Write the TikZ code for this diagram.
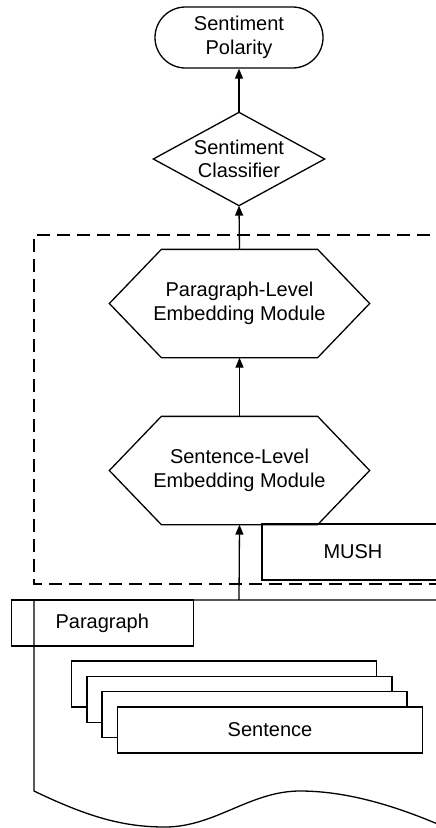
\documentclass[tikz,border=0pt]{standalone}
\usepackage{fontspec}
\setmainfont{Liberation Sans}
\usetikzlibrary{shapes.misc,arrows.meta}
\begin{document}
\begin{tikzpicture}[x=1pt,y=-1pt,
  line width=1.3pt,
  every node/.style={font=\fontsize{20}{23.5}\selectfont, align=center, inner sep=0pt},
  frame/.style 2 args={minimum width=#1pt, minimum height=#2pt},
  flow/.style={-{Triangle[length=10pt,width=8pt]}},
  group/.style={dash pattern=on 13pt off 7pt},
  card/.style={draw, fill=white, frame={305}{46}},
  terminal/.style={draw, rounded rectangle, frame={168}{61}}
]
\useasboundingbox (0,0) rectangle (436,828);
\clip (0,0) rectangle (436,828);

% output terminal
\node[terminal] (pol) at (239,37.5) {Sentiment\\Polarity};

% classifier (diamond drawn through the node anchors)
\node[frame={170}{92}] (cls) at (239,159) {Sentiment\\Classifier};
\draw (cls.north) -- (cls.east) -- (cls.south) -- (cls.west) -- cycle;

% dashed model boundary
\draw[group] (450,235) -- (34,235) -- (34,584) -- (450,584);

% paragraph-level embedding hexagon
\node[frame={259}{107}] (ple) at (239.5,303.5) {Paragraph-Level\\Embedding Module};
\draw (ple.west) -- ([xshift=52pt]ple.north west) -- ([xshift=-52pt]ple.north east)
  -- (ple.east) -- ([xshift=-52pt]ple.south east) -- ([xshift=52pt]ple.south west) -- cycle;

% sentence-level embedding hexagon
\node[frame={259}{107}] (sle) at (239.5,470.5) {Sentence-Level\\Embedding Module};
\draw (sle.west) -- ([xshift=52pt]sle.north west) -- ([xshift=-52pt]sle.north east)
  -- (sle.east) -- ([xshift=-52pt]sle.south east) -- ([xshift=52pt]sle.south west) -- cycle;

% MUSH block
\node[draw, frame={182}{56}] (mush) at (353,552) {MUSH};

% paragraph document with wavy lower edge
\draw (450,600) -- (34,600) -- (34,791)
  .. controls (90,818) and (125,827) .. (165,827)
  .. controls (215,827) and (250,791) .. (300,791)
  .. controls (350,791) and (400,808) .. (440,825);
\coordinate (doc) at (239,600);
\node[draw, frame={182}{46}] (plabel) at (102.3,623) {Paragraph};

% stacked sentences
\node[card] (s1) at (224,684) {};
\node[card] (s2) at (239.5,699.3) {};
\node[card] (s3) at (254.5,714.7) {};
\node[card] (s4) at (270,730) {Sentence};

% data flow
\draw[flow] (doc) -- (sle.south);
\draw[flow] (sle.north) -- (ple.south);
\draw[flow] (ple.north) -- (cls.south);
\draw[flow] (cls.north) -- (pol.south);
\end{tikzpicture}
\end{document}
